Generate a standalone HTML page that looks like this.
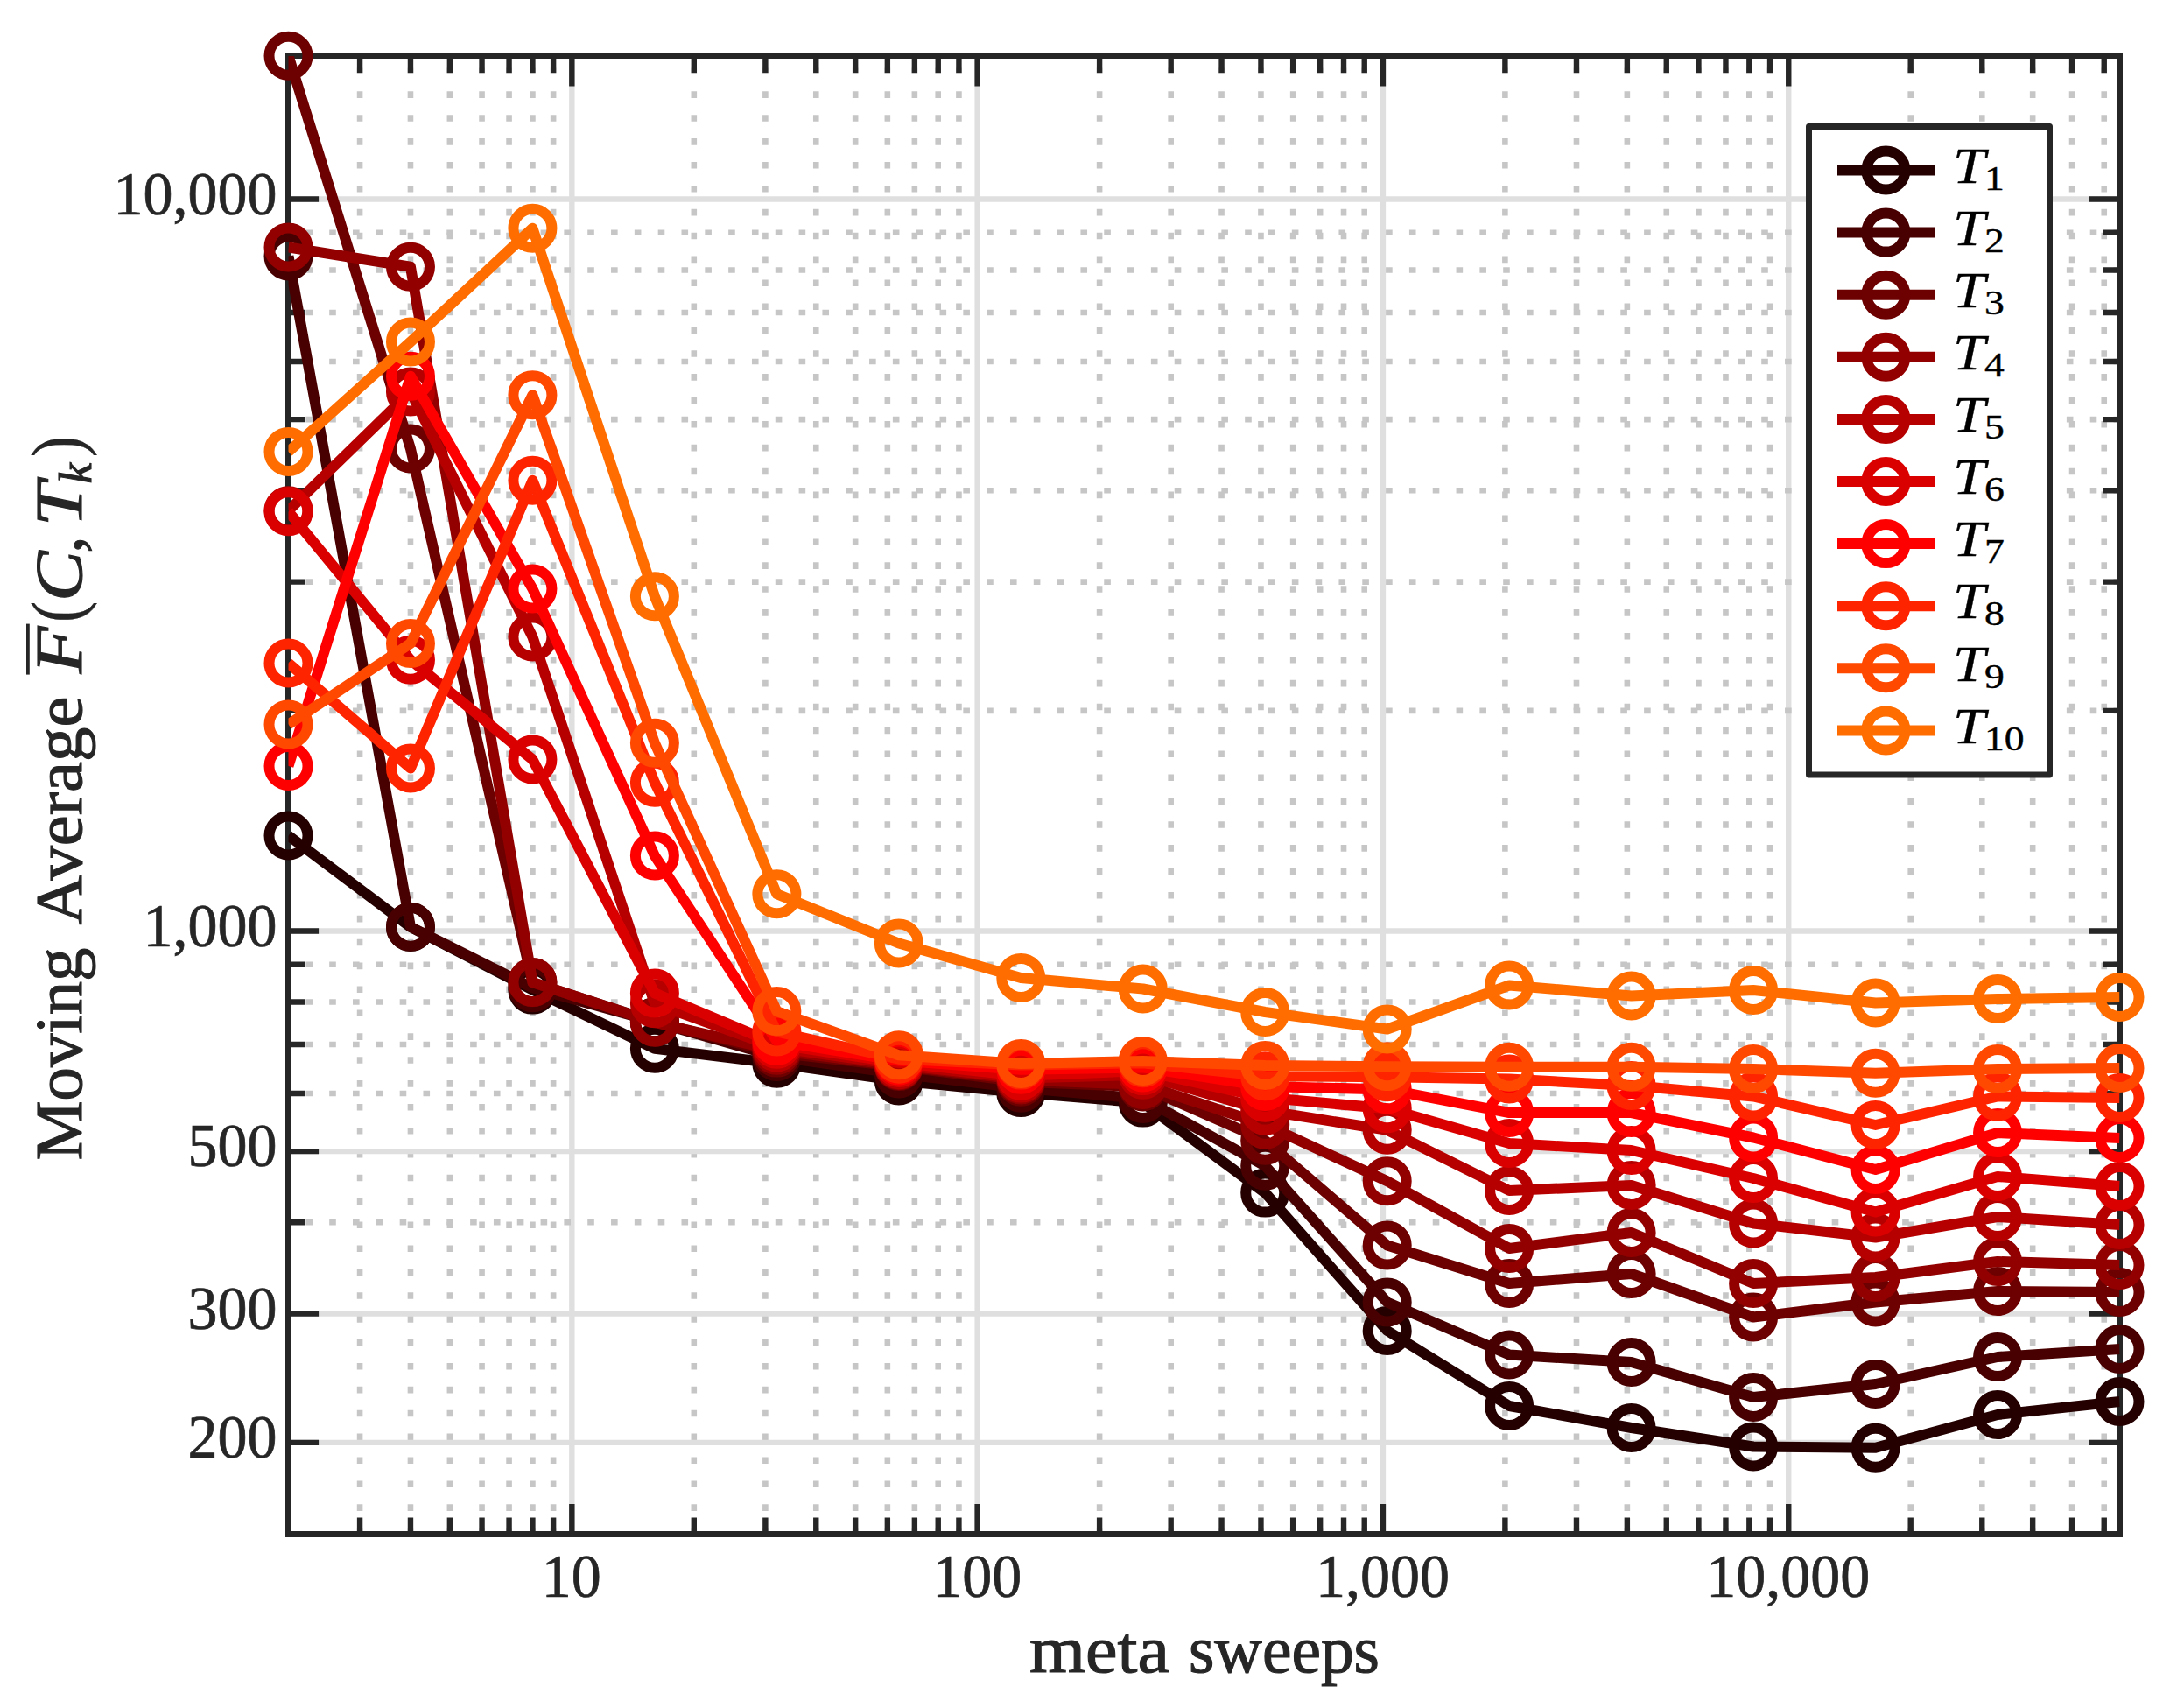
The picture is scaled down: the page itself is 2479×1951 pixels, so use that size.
<!DOCTYPE html>
<html lang="en"><head><meta charset="utf-8"><title>Moving Average vs meta sweeps</title>
<style>html,body{margin:0;padding:0;background:#fff}svg{display:block}text{font-family:"Liberation Serif","DejaVu Serif",serif;fill:#262626}.it{font-style:italic}.lg{fill:#000;stroke:#000;stroke-width:.4px}.tk{stroke:#262626;stroke-width:.7px}.lb{stroke:#262626;stroke-width:1.1px}.pn{stroke-width:.3px}</style></head><body>
<svg width="2479" height="1951" viewBox="0 0 2479 1951">
<rect x="0" y="0" width="2479" height="1951" fill="#ffffff"/>
<defs><clipPath id="pc"><rect x="329.5" y="64" width="2092" height="1688.5"/></clipPath></defs>
<g clip-path="url(#pc)" stroke="#c6c6c6" stroke-width="6.6" fill="none" stroke-dasharray="7.6 19.3">
<path d="M411.08 1752.8V34"/>
<path d="M468.97 1752.8V34"/>
<path d="M513.86 1752.8V34"/>
<path d="M550.55 1752.8V34"/>
<path d="M581.57 1752.8V34"/>
<path d="M608.43 1752.8V34"/>
<path d="M632.13 1752.8V34"/>
<path d="M792.8 1752.8V34"/>
<path d="M874.38 1752.8V34"/>
<path d="M932.26 1752.8V34"/>
<path d="M977.16 1752.8V34"/>
<path d="M1013.85 1752.8V34"/>
<path d="M1044.86 1752.8V34"/>
<path d="M1071.73 1752.8V34"/>
<path d="M1095.43 1752.8V34"/>
<path d="M1256.1 1752.8V34"/>
<path d="M1337.68 1752.8V34"/>
<path d="M1395.56 1752.8V34"/>
<path d="M1440.46 1752.8V34"/>
<path d="M1477.15 1752.8V34"/>
<path d="M1508.16 1752.8V34"/>
<path d="M1535.03 1752.8V34"/>
<path d="M1558.73 1752.8V34"/>
<path d="M1719.39 1752.8V34"/>
<path d="M1800.98 1752.8V34"/>
<path d="M1858.86 1752.8V34"/>
<path d="M1903.76 1752.8V34"/>
<path d="M1940.44 1752.8V34"/>
<path d="M1971.46 1752.8V34"/>
<path d="M1998.33 1752.8V34"/>
<path d="M2022.03 1752.8V34"/>
<path d="M2182.69 1752.8V34"/>
<path d="M2264.28 1752.8V34"/>
<path d="M2322.16 1752.8V34"/>
<path d="M2367.06 1752.8V34"/>
<path d="M2403.74 1752.8V34"/>
</g>
<g stroke="#dfdfdf" stroke-width="6.4" fill="none">
<path d="M653.33 64V1752.5"/>
<path d="M1116.63 64V1752.5"/>
<path d="M1579.93 64V1752.5"/>
<path d="M2043.23 64V1752.5"/>
</g>
<g clip-path="url(#pc)" stroke="#c6c6c6" stroke-width="6.6" fill="none" stroke-dasharray="7.6 19.22">
<path d="M322.56 1396.18H2451.5"/>
<path d="M322.56 1248.97H2451.5"/>
<path d="M322.56 1193H2451.5"/>
<path d="M322.56 1144.52H2451.5"/>
<path d="M322.56 1101.75H2451.5"/>
<path d="M322.56 811.84H2451.5"/>
<path d="M322.56 664.63H2451.5"/>
<path d="M322.56 560.18H2451.5"/>
<path d="M322.56 479.16H2451.5"/>
<path d="M322.56 412.97H2451.5"/>
<path d="M322.56 357H2451.5"/>
<path d="M322.56 308.52H2451.5"/>
<path d="M322.56 265.75H2451.5"/>
</g>
<g stroke="#dfdfdf" stroke-width="6.4" fill="none">
<path d="M329.5 1647.84H2421.5"/>
<path d="M329.5 1500.63H2421.5"/>
<path d="M329.5 1315.16H2421.5"/>
<path d="M329.5 1063.5H2421.5"/>
<path d="M329.5 227.5H2421.5"/>
</g>
<g stroke="#262626" stroke-width="6.4" fill="none">
<path d="M411.08 1752.5v-19 M411.08 64v19"/>
<path d="M468.97 1752.5v-19 M468.97 64v19"/>
<path d="M513.86 1752.5v-19 M513.86 64v19"/>
<path d="M550.55 1752.5v-19 M550.55 64v19"/>
<path d="M581.57 1752.5v-19 M581.57 64v19"/>
<path d="M608.43 1752.5v-19 M608.43 64v19"/>
<path d="M632.13 1752.5v-19 M632.13 64v19"/>
<path d="M792.8 1752.5v-19 M792.8 64v19"/>
<path d="M874.38 1752.5v-19 M874.38 64v19"/>
<path d="M932.26 1752.5v-19 M932.26 64v19"/>
<path d="M977.16 1752.5v-19 M977.16 64v19"/>
<path d="M1013.85 1752.5v-19 M1013.85 64v19"/>
<path d="M1044.86 1752.5v-19 M1044.86 64v19"/>
<path d="M1071.73 1752.5v-19 M1071.73 64v19"/>
<path d="M1095.43 1752.5v-19 M1095.43 64v19"/>
<path d="M1256.1 1752.5v-19 M1256.1 64v19"/>
<path d="M1337.68 1752.5v-19 M1337.68 64v19"/>
<path d="M1395.56 1752.5v-19 M1395.56 64v19"/>
<path d="M1440.46 1752.5v-19 M1440.46 64v19"/>
<path d="M1477.15 1752.5v-19 M1477.15 64v19"/>
<path d="M1508.16 1752.5v-19 M1508.16 64v19"/>
<path d="M1535.03 1752.5v-19 M1535.03 64v19"/>
<path d="M1558.73 1752.5v-19 M1558.73 64v19"/>
<path d="M1719.39 1752.5v-19 M1719.39 64v19"/>
<path d="M1800.98 1752.5v-19 M1800.98 64v19"/>
<path d="M1858.86 1752.5v-19 M1858.86 64v19"/>
<path d="M1903.76 1752.5v-19 M1903.76 64v19"/>
<path d="M1940.44 1752.5v-19 M1940.44 64v19"/>
<path d="M1971.46 1752.5v-19 M1971.46 64v19"/>
<path d="M1998.33 1752.5v-19 M1998.33 64v19"/>
<path d="M2022.03 1752.5v-19 M2022.03 64v19"/>
<path d="M2182.69 1752.5v-19 M2182.69 64v19"/>
<path d="M2264.28 1752.5v-19 M2264.28 64v19"/>
<path d="M2322.16 1752.5v-19 M2322.16 64v19"/>
<path d="M2367.06 1752.5v-19 M2367.06 64v19"/>
<path d="M2403.74 1752.5v-19 M2403.74 64v19"/>
<path d="M653.33 1752.5v-34.6 M653.33 64v34.6"/>
<path d="M1116.63 1752.5v-34.6 M1116.63 64v34.6"/>
<path d="M1579.93 1752.5v-34.6 M1579.93 64v34.6"/>
<path d="M2043.23 1752.5v-34.6 M2043.23 64v34.6"/>
<path d="M329.5 1396.18h19 M2421.5 1396.18h-19"/>
<path d="M329.5 1248.97h19 M2421.5 1248.97h-19"/>
<path d="M329.5 1193h19 M2421.5 1193h-19"/>
<path d="M329.5 1144.52h19 M2421.5 1144.52h-19"/>
<path d="M329.5 1101.75h19 M2421.5 1101.75h-19"/>
<path d="M329.5 811.84h19 M2421.5 811.84h-19"/>
<path d="M329.5 664.63h19 M2421.5 664.63h-19"/>
<path d="M329.5 560.18h19 M2421.5 560.18h-19"/>
<path d="M329.5 479.16h19 M2421.5 479.16h-19"/>
<path d="M329.5 412.97h19 M2421.5 412.97h-19"/>
<path d="M329.5 357h19 M2421.5 357h-19"/>
<path d="M329.5 308.52h19 M2421.5 308.52h-19"/>
<path d="M329.5 265.75h19 M2421.5 265.75h-19"/>
<path d="M329.5 1647.84h34.6 M2421.5 1647.84h-34.6"/>
<path d="M329.5 1500.63h34.6 M2421.5 1500.63h-34.6"/>
<path d="M329.5 1315.16h34.6 M2421.5 1315.16h-34.6"/>
<path d="M329.5 1063.5h34.6 M2421.5 1063.5h-34.6"/>
<path d="M329.5 227.5h34.6 M2421.5 227.5h-34.6"/>
</g>
<path fill="#262626" fill-rule="evenodd" d="M326 61H2425V1756H326Z M333 67H2418V1749H333Z"/>
<g stroke="#240000" stroke-width="12" fill="none">
<polyline clip-path="url(#pc)" stroke-linejoin="round" points="329.5,954.5 468.97,1059 608.43,1130.6 747.9,1197.8 887.37,1214.8 1026.83,1234.5 1166.3,1248 1305.77,1259.6 1445.23,1362.6 1584.7,1520 1724.17,1606 1863.63,1631 2003.1,1652.5 2142.57,1653.75 2282.03,1616 2421.5,1601"/>
<circle cx="329.5" cy="954.5" r="22"/>
<circle cx="468.97" cy="1059" r="22"/>
<circle cx="608.43" cy="1130.6" r="22"/>
<circle cx="747.9" cy="1197.8" r="22"/>
<circle cx="887.37" cy="1214.8" r="22"/>
<circle cx="1026.83" cy="1234.5" r="22"/>
<circle cx="1166.3" cy="1248" r="22"/>
<circle cx="1305.77" cy="1259.6" r="22"/>
<circle cx="1445.23" cy="1362.6" r="22"/>
<circle cx="1584.7" cy="1520" r="22"/>
<circle cx="1724.17" cy="1606" r="22"/>
<circle cx="1863.63" cy="1631" r="22"/>
<circle cx="2003.1" cy="1652.5" r="22"/>
<circle cx="2142.57" cy="1653.75" r="22"/>
<circle cx="2282.03" cy="1616" r="22"/>
<circle cx="2421.5" cy="1601" r="22"/>
</g>
<g stroke="#490000" stroke-width="12" fill="none">
<polyline clip-path="url(#pc)" stroke-linejoin="round" points="329.5,292.5 468.97,1058.75 608.43,1128.3 747.9,1167.3 887.37,1207 1026.83,1226.5 1166.3,1242.8 1305.77,1255 1445.23,1331.7 1584.7,1487.5 1724.17,1547.5 1863.63,1556 2003.1,1596 2142.57,1581 2282.03,1550 2421.5,1541"/>
<circle cx="329.5" cy="292.5" r="22"/>
<circle cx="468.97" cy="1058.75" r="22"/>
<circle cx="608.43" cy="1128.3" r="22"/>
<circle cx="747.9" cy="1167.3" r="22"/>
<circle cx="887.37" cy="1207" r="22"/>
<circle cx="1026.83" cy="1226.5" r="22"/>
<circle cx="1166.3" cy="1242.8" r="22"/>
<circle cx="1305.77" cy="1255" r="22"/>
<circle cx="1445.23" cy="1331.7" r="22"/>
<circle cx="1584.7" cy="1487.5" r="22"/>
<circle cx="1724.17" cy="1547.5" r="22"/>
<circle cx="1863.63" cy="1556" r="22"/>
<circle cx="2003.1" cy="1596" r="22"/>
<circle cx="2142.57" cy="1581" r="22"/>
<circle cx="2282.03" cy="1550" r="22"/>
<circle cx="2421.5" cy="1541" r="22"/>
</g>
<g stroke="#6d0000" stroke-width="12" fill="none">
<polyline clip-path="url(#pc)" stroke-linejoin="round" points="329.5,63.75 468.97,512.5 608.43,1122.3 747.9,1167.3 887.37,1202.6 1026.83,1218.1 1166.3,1235.8 1305.77,1241.4 1445.23,1302.7 1584.7,1422.5 1724.17,1466 1863.63,1455 2003.1,1504.5 2142.57,1487.5 2282.03,1475 2421.5,1476"/>
<circle cx="329.5" cy="63.75" r="22"/>
<circle cx="468.97" cy="512.5" r="22"/>
<circle cx="608.43" cy="1122.3" r="22"/>
<circle cx="747.9" cy="1167.3" r="22"/>
<circle cx="887.37" cy="1202.6" r="22"/>
<circle cx="1026.83" cy="1218.1" r="22"/>
<circle cx="1166.3" cy="1235.8" r="22"/>
<circle cx="1305.77" cy="1241.4" r="22"/>
<circle cx="1445.23" cy="1302.7" r="22"/>
<circle cx="1584.7" cy="1422.5" r="22"/>
<circle cx="1724.17" cy="1466" r="22"/>
<circle cx="1863.63" cy="1455" r="22"/>
<circle cx="2003.1" cy="1504.5" r="22"/>
<circle cx="2142.57" cy="1487.5" r="22"/>
<circle cx="2282.03" cy="1475" r="22"/>
<circle cx="2421.5" cy="1476" r="22"/>
</g>
<g stroke="#920000" stroke-width="12" fill="none">
<polyline clip-path="url(#pc)" stroke-linejoin="round" points="329.5,282.5 468.97,304.7 608.43,1122 747.9,1167.8 887.37,1199.8 1026.83,1217.2 1166.3,1233.4 1305.77,1239 1445.23,1284.7 1584.7,1349.3 1724.17,1426 1863.63,1408 2003.1,1466 2142.57,1459 2282.03,1441 2421.5,1445"/>
<circle cx="329.5" cy="282.5" r="22"/>
<circle cx="468.97" cy="304.7" r="22"/>
<circle cx="608.43" cy="1122" r="22"/>
<circle cx="747.9" cy="1167.8" r="22"/>
<circle cx="887.37" cy="1199.8" r="22"/>
<circle cx="1026.83" cy="1217.2" r="22"/>
<circle cx="1166.3" cy="1233.4" r="22"/>
<circle cx="1305.77" cy="1239" r="22"/>
<circle cx="1445.23" cy="1284.7" r="22"/>
<circle cx="1584.7" cy="1349.3" r="22"/>
<circle cx="1724.17" cy="1426" r="22"/>
<circle cx="1863.63" cy="1408" r="22"/>
<circle cx="2003.1" cy="1466" r="22"/>
<circle cx="2142.57" cy="1459" r="22"/>
<circle cx="2282.03" cy="1441" r="22"/>
<circle cx="2421.5" cy="1445" r="22"/>
</g>
<g stroke="#b60000" stroke-width="12" fill="none">
<polyline clip-path="url(#pc)" stroke-linejoin="round" points="329.5,583.3 468.97,447.4 608.43,727.5 747.9,1146.3 887.37,1196.5 1026.83,1216.2 1166.3,1231.6 1305.77,1227.8 1445.23,1268.6 1584.7,1290.8 1724.17,1360 1863.63,1354 2003.1,1397.5 2142.57,1413.5 2282.03,1390 2421.5,1399"/>
<circle cx="329.5" cy="583.3" r="22"/>
<circle cx="468.97" cy="447.4" r="22"/>
<circle cx="608.43" cy="727.5" r="22"/>
<circle cx="747.9" cy="1146.3" r="22"/>
<circle cx="887.37" cy="1196.5" r="22"/>
<circle cx="1026.83" cy="1216.2" r="22"/>
<circle cx="1166.3" cy="1231.6" r="22"/>
<circle cx="1305.77" cy="1227.8" r="22"/>
<circle cx="1445.23" cy="1268.6" r="22"/>
<circle cx="1584.7" cy="1290.8" r="22"/>
<circle cx="1724.17" cy="1360" r="22"/>
<circle cx="1863.63" cy="1354" r="22"/>
<circle cx="2003.1" cy="1397.5" r="22"/>
<circle cx="2142.57" cy="1413.5" r="22"/>
<circle cx="2282.03" cy="1390" r="22"/>
<circle cx="2421.5" cy="1399" r="22"/>
</g>
<g stroke="#db0000" stroke-width="12" fill="none">
<polyline clip-path="url(#pc)" stroke-linejoin="round" points="329.5,584.3 468.97,753.75 608.43,867.5 747.9,1134.4 887.37,1192.8 1026.83,1213.9 1166.3,1228.7 1305.77,1223.1 1445.23,1253.8 1584.7,1266.3 1724.17,1306 1863.63,1314 2003.1,1346 2142.57,1384.5 2282.03,1344 2421.5,1355"/>
<circle cx="329.5" cy="584.3" r="22"/>
<circle cx="468.97" cy="753.75" r="22"/>
<circle cx="608.43" cy="867.5" r="22"/>
<circle cx="747.9" cy="1134.4" r="22"/>
<circle cx="887.37" cy="1192.8" r="22"/>
<circle cx="1026.83" cy="1213.9" r="22"/>
<circle cx="1166.3" cy="1228.7" r="22"/>
<circle cx="1305.77" cy="1223.1" r="22"/>
<circle cx="1445.23" cy="1253.8" r="22"/>
<circle cx="1584.7" cy="1266.3" r="22"/>
<circle cx="1724.17" cy="1306" r="22"/>
<circle cx="1863.63" cy="1314" r="22"/>
<circle cx="2003.1" cy="1346" r="22"/>
<circle cx="2142.57" cy="1384.5" r="22"/>
<circle cx="2282.03" cy="1344" r="22"/>
<circle cx="2421.5" cy="1355" r="22"/>
</g>
<g stroke="#ff0000" stroke-width="12" fill="none">
<polyline clip-path="url(#pc)" stroke-linejoin="round" points="329.5,875 468.97,429.8 608.43,672.5 747.9,977.5 887.37,1189 1026.83,1211.5 1166.3,1221.7 1305.77,1219.4 1445.23,1240.9 1584.7,1244.4 1724.17,1271 1863.63,1271 2003.1,1299.5 2142.57,1336 2282.03,1294 2421.5,1300"/>
<circle cx="329.5" cy="875" r="22"/>
<circle cx="468.97" cy="429.8" r="22"/>
<circle cx="608.43" cy="672.5" r="22"/>
<circle cx="747.9" cy="977.5" r="22"/>
<circle cx="887.37" cy="1189" r="22"/>
<circle cx="1026.83" cy="1211.5" r="22"/>
<circle cx="1166.3" cy="1221.7" r="22"/>
<circle cx="1305.77" cy="1219.4" r="22"/>
<circle cx="1445.23" cy="1240.9" r="22"/>
<circle cx="1584.7" cy="1244.4" r="22"/>
<circle cx="1724.17" cy="1271" r="22"/>
<circle cx="1863.63" cy="1271" r="22"/>
<circle cx="2003.1" cy="1299.5" r="22"/>
<circle cx="2142.57" cy="1336" r="22"/>
<circle cx="2282.03" cy="1294" r="22"/>
<circle cx="2421.5" cy="1300" r="22"/>
</g>
<g stroke="#ff2400" stroke-width="12" fill="none">
<polyline clip-path="url(#pc)" stroke-linejoin="round" points="329.5,757.5 468.97,877.5 608.43,548.75 747.9,893.75 887.37,1178.5 1026.83,1209.7 1166.3,1216.6 1305.77,1214.2 1445.23,1229.3 1584.7,1230.2 1724.17,1232.5 1863.63,1240 2003.1,1252.5 2142.57,1285 2282.03,1252.5 2421.5,1254"/>
<circle cx="329.5" cy="757.5" r="22"/>
<circle cx="468.97" cy="877.5" r="22"/>
<circle cx="608.43" cy="548.75" r="22"/>
<circle cx="747.9" cy="893.75" r="22"/>
<circle cx="887.37" cy="1178.5" r="22"/>
<circle cx="1026.83" cy="1209.7" r="22"/>
<circle cx="1166.3" cy="1216.6" r="22"/>
<circle cx="1305.77" cy="1214.2" r="22"/>
<circle cx="1445.23" cy="1229.3" r="22"/>
<circle cx="1584.7" cy="1230.2" r="22"/>
<circle cx="1724.17" cy="1232.5" r="22"/>
<circle cx="1863.63" cy="1240" r="22"/>
<circle cx="2003.1" cy="1252.5" r="22"/>
<circle cx="2142.57" cy="1285" r="22"/>
<circle cx="2282.03" cy="1252.5" r="22"/>
<circle cx="2421.5" cy="1254" r="22"/>
</g>
<g stroke="#ff4900" stroke-width="12" fill="none">
<polyline clip-path="url(#pc)" stroke-linejoin="round" points="329.5,827.5 468.97,735 608.43,451.25 747.9,848.75 887.37,1155.1 1026.83,1205.3 1166.3,1215 1305.77,1211.9 1445.23,1217 1584.7,1218.3 1724.17,1218.75 1863.63,1218.75 2003.1,1221 2142.57,1225.75 2282.03,1221 2421.5,1220"/>
<circle cx="329.5" cy="827.5" r="22"/>
<circle cx="468.97" cy="735" r="22"/>
<circle cx="608.43" cy="451.25" r="22"/>
<circle cx="747.9" cy="848.75" r="22"/>
<circle cx="887.37" cy="1155.1" r="22"/>
<circle cx="1026.83" cy="1205.3" r="22"/>
<circle cx="1166.3" cy="1215" r="22"/>
<circle cx="1305.77" cy="1211.9" r="22"/>
<circle cx="1445.23" cy="1217" r="22"/>
<circle cx="1584.7" cy="1218.3" r="22"/>
<circle cx="1724.17" cy="1218.75" r="22"/>
<circle cx="1863.63" cy="1218.75" r="22"/>
<circle cx="2003.1" cy="1221" r="22"/>
<circle cx="2142.57" cy="1225.75" r="22"/>
<circle cx="2282.03" cy="1221" r="22"/>
<circle cx="2421.5" cy="1220" r="22"/>
</g>
<g stroke="#ff6d00" stroke-width="12" fill="none">
<polyline clip-path="url(#pc)" stroke-linejoin="round" points="329.5,516 468.97,390.5 608.43,260.75 747.9,681.25 887.37,1021.25 1026.83,1077.5 1166.3,1117 1305.77,1129.5 1445.23,1156 1584.7,1175.5 1724.17,1125.5 1863.63,1137.5 2003.1,1131 2142.57,1145.5 2282.03,1141 2421.5,1139"/>
<circle cx="329.5" cy="516" r="22"/>
<circle cx="468.97" cy="390.5" r="22"/>
<circle cx="608.43" cy="260.75" r="22"/>
<circle cx="747.9" cy="681.25" r="22"/>
<circle cx="887.37" cy="1021.25" r="22"/>
<circle cx="1026.83" cy="1077.5" r="22"/>
<circle cx="1166.3" cy="1117" r="22"/>
<circle cx="1305.77" cy="1129.5" r="22"/>
<circle cx="1445.23" cy="1156" r="22"/>
<circle cx="1584.7" cy="1175.5" r="22"/>
<circle cx="1724.17" cy="1125.5" r="22"/>
<circle cx="1863.63" cy="1137.5" r="22"/>
<circle cx="2003.1" cy="1131" r="22"/>
<circle cx="2142.57" cy="1145.5" r="22"/>
<circle cx="2282.03" cy="1141" r="22"/>
<circle cx="2421.5" cy="1139" r="22"/>
</g>
<rect x="2066.5" y="144.5" width="275" height="740.5" fill="#fff" stroke="#262626" stroke-width="7" stroke-linejoin="round"/>
<g stroke="#240000" stroke-width="12" fill="none"><path d="M2099 194.5H2210"/><circle cx="2154.4" cy="194.5" r="22"/></g>
<text class="lg" transform="translate(2231 208.7) scale(1.17 1)" font-size="57"><tspan class="it">T</tspan><tspan font-size="39" dx="-1" dy="8">1</tspan></text>
<g stroke="#490000" stroke-width="12" fill="none"><path d="M2099 265.6H2210"/><circle cx="2154.4" cy="265.6" r="22"/></g>
<text class="lg" transform="translate(2231 279.8) scale(1.17 1)" font-size="57"><tspan class="it">T</tspan><tspan font-size="39" dx="-1" dy="8">2</tspan></text>
<g stroke="#6d0000" stroke-width="12" fill="none"><path d="M2099 336.7H2210"/><circle cx="2154.4" cy="336.7" r="22"/></g>
<text class="lg" transform="translate(2231 350.9) scale(1.17 1)" font-size="57"><tspan class="it">T</tspan><tspan font-size="39" dx="-1" dy="8">3</tspan></text>
<g stroke="#920000" stroke-width="12" fill="none"><path d="M2099 407.8H2210"/><circle cx="2154.4" cy="407.8" r="22"/></g>
<text class="lg" transform="translate(2231 422) scale(1.17 1)" font-size="57"><tspan class="it">T</tspan><tspan font-size="39" dx="-1" dy="8">4</tspan></text>
<g stroke="#b60000" stroke-width="12" fill="none"><path d="M2099 478.9H2210"/><circle cx="2154.4" cy="478.9" r="22"/></g>
<text class="lg" transform="translate(2231 493.1) scale(1.17 1)" font-size="57"><tspan class="it">T</tspan><tspan font-size="39" dx="-1" dy="8">5</tspan></text>
<g stroke="#db0000" stroke-width="12" fill="none"><path d="M2099 550H2210"/><circle cx="2154.4" cy="550" r="22"/></g>
<text class="lg" transform="translate(2231 564.2) scale(1.17 1)" font-size="57"><tspan class="it">T</tspan><tspan font-size="39" dx="-1" dy="8">6</tspan></text>
<g stroke="#ff0000" stroke-width="12" fill="none"><path d="M2099 621.1H2210"/><circle cx="2154.4" cy="621.1" r="22"/></g>
<text class="lg" transform="translate(2231 635.3) scale(1.17 1)" font-size="57"><tspan class="it">T</tspan><tspan font-size="39" dx="-1" dy="8">7</tspan></text>
<g stroke="#ff2400" stroke-width="12" fill="none"><path d="M2099 692.2H2210"/><circle cx="2154.4" cy="692.2" r="22"/></g>
<text class="lg" transform="translate(2231 706.4) scale(1.17 1)" font-size="57"><tspan class="it">T</tspan><tspan font-size="39" dx="-1" dy="8">8</tspan></text>
<g stroke="#ff4900" stroke-width="12" fill="none"><path d="M2099 763.3H2210"/><circle cx="2154.4" cy="763.3" r="22"/></g>
<text class="lg" transform="translate(2231 777.5) scale(1.17 1)" font-size="57"><tspan class="it">T</tspan><tspan font-size="39" dx="-1" dy="8">9</tspan></text>
<g stroke="#ff6d00" stroke-width="12" fill="none"><path d="M2099 834.4H2210"/><circle cx="2154.4" cy="834.4" r="22"/></g>
<text class="lg" transform="translate(2231 848.6) scale(1.17 1)" font-size="57"><tspan class="it">T</tspan><tspan font-size="39" dx="-1" dy="8">10</tspan></text>
<text class="tk" transform="translate(652.83 1824) scale(1 1.035)" font-size="68" text-anchor="middle">10</text>
<text class="tk" transform="translate(1116.13 1824) scale(1 1.035)" font-size="68" text-anchor="middle">100</text>
<text class="tk" transform="translate(1579.43 1824) scale(1 1.035)" font-size="68" text-anchor="middle">1,000</text>
<text class="tk" transform="translate(2042.73 1824) scale(1 1.035)" font-size="68" text-anchor="middle">10,000</text>
<text class="tk" transform="translate(316.5 1665.14) scale(1 1.035)" font-size="68" text-anchor="end">200</text>
<text class="tk" transform="translate(316.5 1517.93) scale(1 1.035)" font-size="68" text-anchor="end">300</text>
<text class="tk" transform="translate(316.5 1332.46) scale(1 1.035)" font-size="68" text-anchor="end">500</text>
<text class="tk" transform="translate(316.5 1080.8) scale(1 1.035)" font-size="68" text-anchor="end">1,000</text>
<text class="tk" transform="translate(316.5 244.8) scale(1 1.035)" font-size="68" text-anchor="end">10,000</text>
<text class="lb" x="1176" y="1909.5" font-size="76" textLength="160" lengthAdjust="spacingAndGlyphs">meta</text>
<text class="lb" x="1358" y="1909.5" font-size="76" textLength="218" lengthAdjust="spacingAndGlyphs">sweeps</text>
<g class="lb" transform="translate(93.2 1323.6) rotate(-90)" font-size="76">
<text x="-2" y="0" textLength="243" lengthAdjust="spacingAndGlyphs">Moving</text>
<text x="267" y="0" textLength="261" lengthAdjust="spacingAndGlyphs">Average</text>
<text class="it" transform="translate(554 0) scale(1.16 1)">F</text>
<path d="M553 -61.3H611" stroke="#262626" stroke-width="3.8" fill="none"/>
<text class="pn" transform="translate(612.7 -0.3) scale(0.96 1.09)">(</text>
<text class="it" transform="translate(636.5 0) scale(1.14 1)">C</text>
<text x="692" y="0">,</text>
<text class="it" transform="translate(722 0) scale(1.21 1)">T</text>
<text class="it" x="771" y="11" font-size="53">k</text>
<text class="pn" transform="translate(801.4 -0.3) scale(0.96 1.09)">)</text>
</g>
</svg></body></html>
